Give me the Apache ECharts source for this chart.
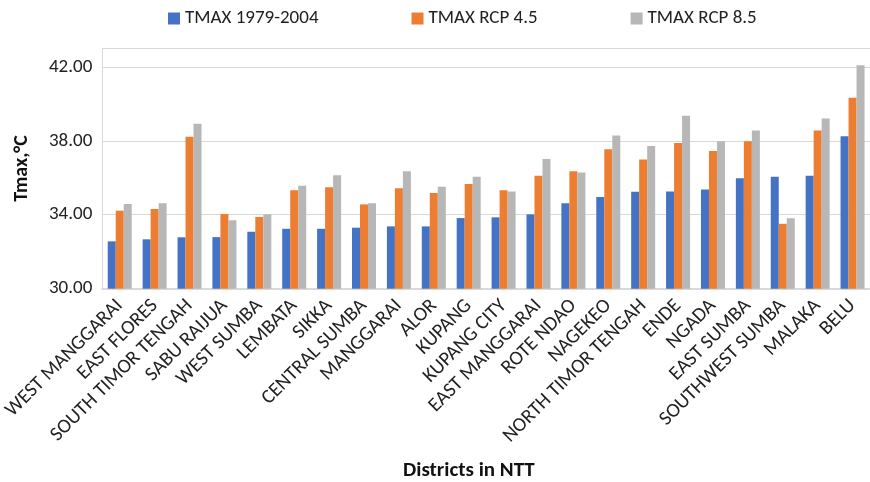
<!DOCTYPE html>
<html>
<head>
<meta charset="utf-8">
<script src="https://cdn.jsdelivr.net/npm/echarts@6/dist/echarts.min.js"></script>
<style>
  html, body { margin: 0; padding: 0; background: #fff; }
  #chart { width: 870px; height: 482px; }
</style>
</head>
<body>
<div id="chart"></div>
<script>
// Districts of Nusa Tenggara Timur, ordered by baseline maximum temperature
const districts = [
  'WEST MANGGARAI', 'EAST FLORES', 'SOUTH TIMOR TENGAH', 'SABU RAIJUA', 'WEST SUMBA',
  'LEMBATA', 'SIKKA', 'CENTRAL SUMBA', 'MANGGARAI', 'ALOR', 'KUPANG', 'KUPANG CITY',
  'EAST MANGGARAI', 'ROTE NDAO', 'NAGEKEO', 'NORTH TIMOR TENGAH', 'ENDE', 'NGADA',
  'EAST SUMBA', 'SOUTHWEST SUMBA', 'MALAKA', 'BELU'
];

// Maximum temperature (°C)
const tmaxBaseline = [32.56, 32.67, 32.78, 32.79, 33.08, 33.24, 33.24, 33.30, 33.37, 33.37, 33.82,
  33.86, 34.02, 34.62, 34.96, 35.24, 35.26, 35.37, 35.97, 36.05, 36.11, 38.25];
const tmaxRcp45 = [34.22, 34.31, 38.22, 34.04, 33.88, 35.32, 35.48, 34.56, 35.43, 35.17, 35.66,
  35.32, 36.11, 36.35, 37.54, 36.99, 37.88, 37.44, 37.97, 33.51, 38.56, 40.32];
const tmaxRcp85 = [34.58, 34.62, 38.92, 33.70, 34.02, 35.57, 36.13, 34.62, 36.35, 35.51, 36.05,
  35.26, 37.01, 36.29, 38.29, 37.71, 39.35, 37.98, 38.56, 33.81, 39.21, 42.08];

const seriesNames = ['TMAX 1979-2004', 'TMAX RCP 4.5', 'TMAX RCP 8.5'];
const seriesColors = ['#4472C4', '#ED7D31', '#B7B7B7'];

const FONT = 'Carlito, Calibri, Lato, sans-serif';
const TEXT = '#222';
const LINE = '#D9D9D9';

const chart = echarts.init(document.getElementById('chart'));

const option = {
  animation: false,
  textStyle: { fontFamily: FONT },
  title: {
    text: 'Districts in NTT',
    left: 403,
    top: 460,
    padding: 0,
    textStyle: { fontFamily: FONT, fontSize: 21, fontWeight: 'bold', color: '#111' }
  },
  legend: {
    left: 168,
    top: 9,
    padding: 0,
    icon: 'rect',
    itemWidth: 12,
    itemHeight: 12,
    itemGap: 93,
    textStyle: { fontFamily: FONT, fontSize: 19, color: TEXT },
    data: seriesNames
  },
  grid: { left: 99.4, right: -3.8, top: 48.3, bottom: 193.3, containLabel: false },
  xAxis: {
    type: 'category',
    data: districts,
    axisLine: { lineStyle: { color: LINE, width: 2 } },
    axisTick: { show: false },
    axisLabel: {
      interval: 0,
      rotate: 45,
      margin: 14,
      fontFamily: FONT,
      fontSize: 20,
      color: TEXT
    }
  },
  yAxis: {
    type: 'value',
    min: 30,
    max: 43,
    interval: 4,
    name: 'Tmax,°C',
    nameLocation: 'middle',
    nameRotate: 90,
    nameGap: 70,
    nameTextStyle: { fontFamily: FONT, fontSize: 20, fontWeight: 'bold', color: '#111' },
    axisLine: { show: true, lineStyle: { color: LINE, width: 1 } },
    axisTick: { show: false },
    splitLine: { lineStyle: { color: LINE, width: 1 } },
    axisLabel: {
      showMaxLabel: false,
      margin: 10,
      fontFamily: FONT,
      fontSize: 19,
      color: TEXT,
      formatter: v => v.toFixed(2)
    }
  },
  series: [tmaxBaseline, tmaxRcp45, tmaxRcp85].map((values, i) => ({
    name: seriesNames[i],
    type: 'bar',
    data: values,
    barWidth: 8,
    barGap: '0%',
    itemStyle: { color: seriesColors[i] }
  }))
};

chart.setOption(option);
</script>
</body>
</html>
